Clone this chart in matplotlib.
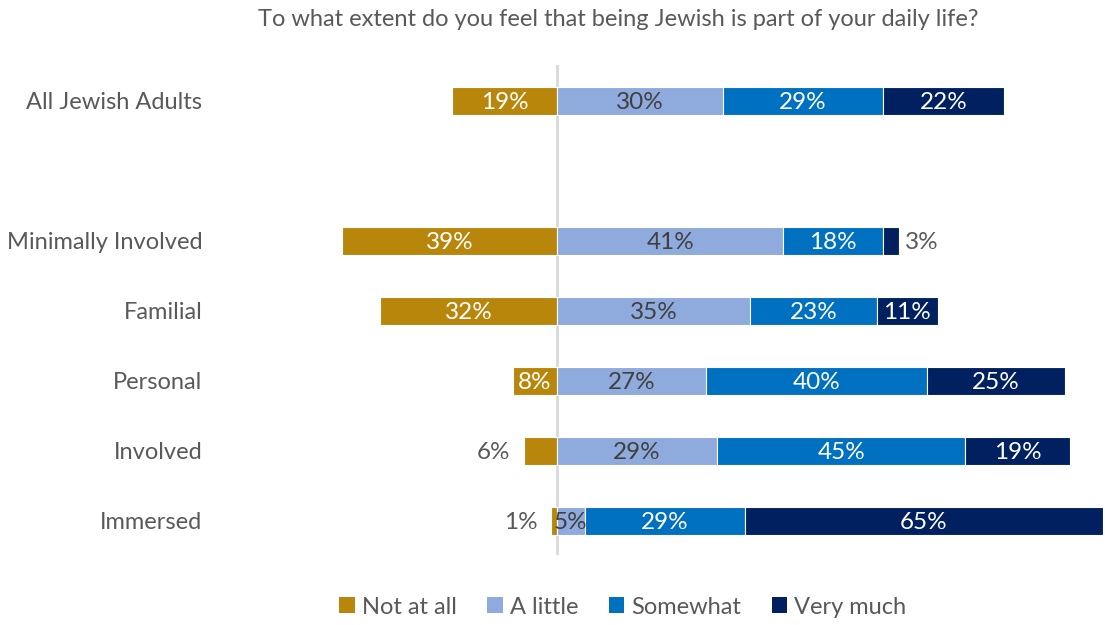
#!/usr/bin/env python3

"""
Diverging bar chart: how much being Jewish is part of daily life, by group.
"""

import matplotlib
matplotlib.use("Agg")
import matplotlib.pyplot as plt
from matplotlib.patches import Patch

# Data
groups = ["All Jewish Adults", "Minimally Involved", "Familial",
          "Personal", "Involved", "Immersed"]
positions = [0, 2, 3, 4, 5, 6]  # blank row after "All Jewish Adults"
responses = ["Not at all", "A little", "Somewhat", "Very much"]
not_at_all = [19, 39, 32, 8, 6, 1]
a_little = [30, 41, 35, 27, 29, 5]
somewhat = [29, 18, 23, 40, 45, 29]
very_much = [22, 3, 11, 25, 19, 65]

COLORS = ["#B8860B", "#8FAADC", "#0070C0", "#002060"]
TEXT_COLORS = ["white", "#404040", "white", "white"]
MIN_INSIDE = [7, 4, 4, 4]
GRAY = "#595959"

plt.rcParams["font.family"] = ["Lato", "DejaVu Sans"]


def main():
    fig = plt.figure(figsize=(11.05, 6.25), dpi=100)
    ax = fig.add_axes([215 / 1105, 1 - 555 / 625, 890 / 1105, 490 / 625])

    series = [not_at_all, a_little, somewhat, very_much]
    h = 0.4
    fs = 17.5

    for i, pos in enumerate(positions):
        # negative side
        v = not_at_all[i]
        ax.barh(pos, -v, height=h, color=COLORS[0], edgecolor="white",
                linewidth=0.8)
        if v >= MIN_INSIDE[0]:
            ax.text(-v / 2, pos + 0.02, f"{v}%", ha="center", va="center",
                    color=TEXT_COLORS[0], fontsize=fs)
        else:
            ax.text(-v - 2.5, pos + 0.02, f"{v}%", ha="right", va="center",
                    color=GRAY, fontsize=fs)

        # positive side
        left = 0
        for k in range(1, 4):
            v = series[k][i]
            ax.barh(pos, v, left=left, height=h, color=COLORS[k],
                    edgecolor="white", linewidth=0.8)
            if v >= MIN_INSIDE[k]:
                ax.text(left + v / 2, pos + 0.02, f"{v}%", ha="center",
                        va="center", color=TEXT_COLORS[k], fontsize=fs)
            else:
                ax.text(left + v + 1.1, pos + 0.02, f"{v}%", ha="left",
                        va="center", color=GRAY, fontsize=fs)
            left += v

    ax.axvline(0, color="#D9D9D9", linewidth=2, zorder=0.5)

    ax.set_xlim(-61.96, 99.3)
    ax.set_ylim(6.486, -0.514)
    ax.set_yticks(positions)
    ax.set_yticklabels(groups, fontsize=17, color=GRAY)
    ax.tick_params(axis="y", length=0, pad=9)
    ax.set_xticks([])
    for s in ax.spines.values():
        s.set_visible(False)

    fig.text(618 / 1105, 1 - 20 / 625,
             "To what extent do you feel that being Jewish is part of your daily life?",
             ha="center", va="center", fontsize=17, color=GRAY)

    handles = [Patch(facecolor=c, edgecolor="none") for c in COLORS]
    fig.legend(handles, responses, loc="center", ncol=4,
               bbox_to_anchor=(623 / 1105, 1 - 607 / 625), frameon=False,
               fontsize=17, labelcolor=GRAY, handlelength=0.65,
               handleheight=0.65, handletextpad=0.3, columnspacing=1.3)

    fig.savefig("out.png", dpi=100)
    plt.close(fig)


if __name__ == "__main__":
    main()
